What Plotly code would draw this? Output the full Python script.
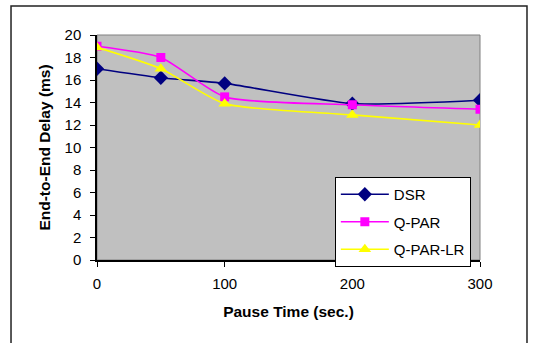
import plotly.graph_objects as go

pause_time = [0, 50, 100, 200, 300]
dsr = [17.0, 16.2, 15.7, 13.9, 14.2]
qpar = [19.0, 18.0, 14.5, 13.8, 13.4]
qpar_lr = [18.9, 17.0, 13.9, 12.9, 12.0]

x_ticks = [0, 100, 200, 300]
y_ticks = [0, 2, 4, 6, 8, 10, 12, 14, 16, 18, 20]

FONT = "Liberation Sans, Arial, sans-serif"

fig = go.Figure()
series = [
    ("DSR", dsr, "#000080", "diamond", 11),
    ("Q-PAR", qpar, "#FF00FF", "square", 9),
    ("Q-PAR-LR", qpar_lr, "#FFFF00", "triangle-up", 11),
]
for name, vals, color, sym, size in series:
    fig.add_trace(go.Scatter(
        x=pause_time, y=vals, name=name, mode="lines+markers",
        legendgroup=name,
        line=dict(color=color, width=1.6, shape="spline", smoothing=0.6),
        marker=dict(symbol=sym, size=size, color=color, line=dict(width=0)),
    ))

fig.update_layout(
    width=536, height=343,
    margin=dict(l=97, r=56, t=35, b=83),
    paper_bgcolor="white",
    plot_bgcolor="#C0C0C0",
    font=dict(family=FONT, size=15, color="black"),
    showlegend=True,
    legend=dict(
        x=0.621, y=0.369, xanchor="left", yanchor="top",
        bgcolor="white", bordercolor="black", borderwidth=1,
        font=dict(size=15, family=FONT),
        traceorder="grouped", tracegroupgap=5, itemwidth=48,
    ),
    xaxis=dict(
        range=[0, 300], tickvals=x_ticks, ticks="outside", ticklen=5,
        tickcolor="black", showline=True, linecolor="black", linewidth=2,
        showgrid=False, zeroline=False, mirror=False, ticklabelstandoff=4,
        title=dict(text="<b>Pause Time (sec.)</b>", font=dict(size=15.5, family=FONT), standoff=15),
        tickfont=dict(size=15),
    ),
    yaxis=dict(
        range=[0, 20], tickvals=y_ticks, ticks="outside", ticklen=5,
        tickcolor="black", showline=True, linecolor="black", linewidth=1.5,
        showgrid=False, zeroline=False, ticklabelstandoff=6,
        title=dict(text="<b>End-to-End Delay (ms)</b>", font=dict(size=15.5, family=FONT), standoff=10),
        tickfont=dict(size=15),
    ),
)

# gray plot-area border on top and right
fig.add_shape(type="rect", xref="paper", yref="paper", x0=0, y0=0, x1=1, y1=1,
              line=dict(color="#808080", width=1), layer="below")
# outer chart frame
fig.add_shape(type="rect", xref="paper", yref="paper",
              x0=-0.2245, x1=1.1227, y0=-0.40, y1=1.129,
              line=dict(color="#222222", width=1.5))

fig.write_html("out.html")
